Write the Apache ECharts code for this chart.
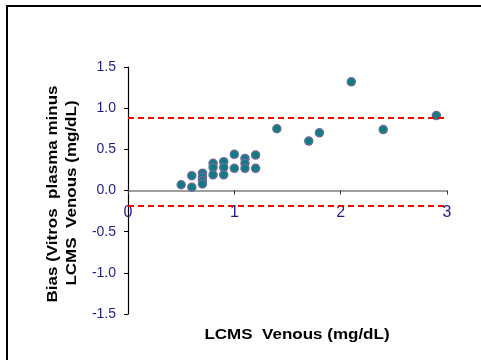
<!DOCTYPE html>
<html>
<head>
<meta charset="utf-8">
<script src="https://cdn.jsdelivr.net/npm/echarts@6/dist/echarts.min.js"></script>
<style>
  html, body { margin: 0; padding: 0; background: #fff; }
  #chart { width: 481px; height: 360px; }
</style>
</head>
<body>
<div id="chart"></div>
<script>
// LCMS venous value (x) vs bias (Vitros plasma minus LCMS venous)
var lcmsVenous = [0.5, 0.6, 0.6, 0.7, 0.7, 0.7, 0.7, 0.8, 0.8, 0.8, 0.9, 0.9, 0.9,
                  1.0, 1.0, 1.1, 1.1, 1.1, 1.2, 1.2, 1.4, 1.7, 1.8, 2.1, 2.4, 2.9];
var bias = [0.07, 0.18, 0.04, 0.21, 0.16, 0.12, 0.08, 0.33, 0.28, 0.19, 0.35, 0.28, 0.19,
            0.44, 0.27, 0.39, 0.33, 0.27, 0.43, 0.27, 0.75, 0.60, 0.70, 1.32, 0.74, 0.91];
var limitLines = [0.88, -0.19];
var xTicks = [0, 1, 2, 3];
var yTicks = [-1.5, -1.0, -0.5, 0.0, 0.5, 1.0, 1.5];

var points = lcmsVenous.map(function (x, i) { return [x, bias[i]]; });

var myChart = echarts.init(document.getElementById('chart'));
var labelColor = '#1e1e8c';

// plot box; the x axis sits on y = 0, so shift it up from the bottom edge
var gridTop = 67, gridBottom = 46, chartH = 360;
var plotH = chartH - gridTop - gridBottom;
var yMin = yTicks[0], yMax = yTicks[yTicks.length - 1];
var zeroShift = -plotH * (0 - yMin) / (yMax - yMin);

var option = {
  backgroundColor: '#fff',
  animation: false,
  grid: { left: 128, right: 34, top: gridTop, bottom: gridBottom },
  xAxis: {
    type: 'value',
    min: xTicks[0],
    max: xTicks[xTicks.length - 1],
    interval: 1,
    position: 'bottom',
    offset: zeroShift,
    axisLine: { onZero: false, lineStyle: { color: '#808080', width: 1.5 } },
    axisTick: { show: true, length: 4, lineStyle: { color: '#333' } },
    axisLabel: { color: labelColor, fontSize: 16, fontFamily: 'Liberation Sans, Arial', margin: 14 },
    splitLine: { show: false }
  },
  yAxis: {
    type: 'value',
    min: yMin,
    max: yMax,
    interval: 0.5,
    axisLine: { show: true, onZero: false, lineStyle: { color: '#000', width: 1.2 } },
    axisTick: { show: true, length: 4, lineStyle: { color: '#000' } },
    axisLabel: {
      color: labelColor, fontSize: 14, fontFamily: 'Liberation Sans, Arial', margin: 12,
      formatter: function (v) { return v.toFixed(1); }
    },
    splitLine: { show: false }
  },
  graphic: [
    {
      type: 'rect', shape: { x: 7, y: 6, width: 520, height: 420 }, silent: true,
      style: { fill: 'none', stroke: '#000', lineWidth: 2 }
    },
    {
      type: 'text', x: 297, y: 335, scaleY: 0.82,
      style: {
        text: 'LCMS  Venous (mg/dL)', fill: '#000', font: 'bold 17px "Liberation Sans", Arial',
        align: 'center', verticalAlign: 'middle'
      }
    },
    {
      type: 'text', x: 53, y: 194, rotation: Math.PI / 2, scaleY: 0.82,
      style: {
        text: 'Bias (Vitros  plasma minus', fill: '#000', font: 'bold 17px "Liberation Sans", Arial',
        align: 'center', verticalAlign: 'middle'
      }
    },
    {
      type: 'text', x: 72, y: 193, rotation: Math.PI / 2, scaleY: 0.82,
      style: {
        text: 'LCMS  Venous (mg/dL)', fill: '#000', font: 'bold 17px "Liberation Sans", Arial',
        align: 'center', verticalAlign: 'middle'
      }
    }
  ],
  series: [
    {
      type: 'scatter',
      data: points,
      symbolSize: 8,
      itemStyle: { color: '#0b7f80', borderColor: '#6a6a9c', borderWidth: 1.5, opacity: 1 },
      markLine: {
        silent: true,
        symbol: 'none',
        label: { show: false },
        lineStyle: { color: '#ff0000', type: [6, 4], width: 2 },
        data: limitLines.map(function (v) {
          return [{ coord: [xTicks[0], v] }, { coord: [xTicks[xTicks.length - 1], v] }];
        })
      },
      z: 3
    }
  ]
};
myChart.setOption(option, true);
</script>
</body>
</html>
